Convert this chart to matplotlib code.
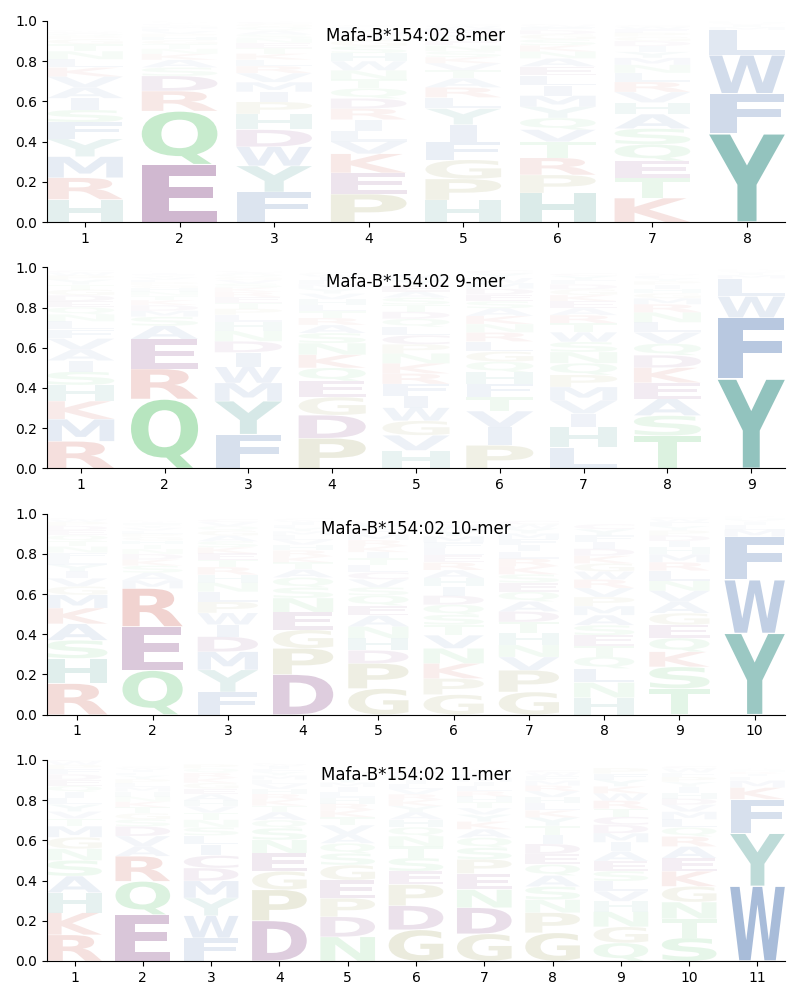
import numpy as np
import matplotlib
matplotlib.use('Agg')
from matplotlib import pyplot as plt
from matplotlib.textpath import TextPath
from matplotlib.patches import PathPatch
from matplotlib.font_manager import FontProperties
from matplotlib.transforms import Affine2D

allele = 'Mafa-B*154:02'

# letter probabilities per position
mer8 = [
    dict(H=.113, R=.108, M=.105, Y=.088, F=.083, S=.061, I=.058, A=.055, V=.053, L=.041, T=.035, K=.045,
         N=.04, G=.025, P=.015, Q=.012, D=.008, W=.005, E=.004),
    dict(E=.287, Q=.265, R=.10, D=.075, S=.042, A=.038, K=.03, N=.025, T=.022, G=.02, H=.018, P=.015,
         V=.013, L=.012, M=.01, Y=.008, F=.007, I=.005, W=.004, C=.004),
    dict(F=.15, Y=.13, W=.095, D=.085, H=.078, P=.06, I=.05, M=.048, V=.045, R=.035, L=.032, K=.03,
         T=.028, E=.025, N=.022, S=.02, A=.02, Q=.018, G=.015, C=.01),
    dict(P=.14, E=.105, K=.095, V=.06, L=.055, I=.055, R=.055, D=.05, Q=.05, T=.045, N=.045, H=.04,
         W=.045, S=.035, G=.03, A=.022, M=.018, Y=.015, F=.012, C=.008),
    dict(H=.11, P=.105, G=.095, F=.09, I=.085, Y=.08, L=.055, R=.05, A=.045, T=.04, V=.035, K=.03,
         S=.03, N=.028, E=.025, Q=.022, D=.02, M=.018, W=.012, C=.008),
    dict(H=.145, P=.09, R=.085, T=.08, V=.06, Q=.058, Y=.056, M=.055, I=.05, L=.05, E=.045, A=.04,
         N=.035, K=.03, S=.03, G=.025, D=.02, F=.015, W=.01, C=.006),
    dict(K=.12, T=.10, E=.085, Q=.082, S=.078, A=.072, H=.058, V=.052, R=.05, L=.045, N=.04, M=.035,
         Y=.03, I=.028, D=.025, G=.022, P=.02, F=.018, W=.012, C=.008),
    dict(Y=.44, F=.20, W=.19, L=.125, M=.015, I=.01, V=.008, H=.006, K=.004, R=.003),
]

mer9 = [
    dict(R=.135, M=.11, K=.09, H=.08, S=.066, I=.055, A=.055, V=.055, F=.045, L=.04, N=.035, Q=.035,
         E=.03, D=.03, G=.028, T=.025, Y=.025, P=.02, W=.015, C=.01),
    dict(Q=.345, R=.15, E=.148, A=.066, S=.045, M=.03, D=.028, K=.025, T=.022, N=.02, H=.018, G=.015,
         P=.014, L=.012, V=.012, Y=.01, F=.008, I=.006, W=.004, C=.003),
    dict(F=.17, Y=.165, M=.09, W=.08, I=.072, D=.055, N=.052, H=.045, L=.035, P=.03, T=.03, E=.028,
         R=.025, K=.022, S=.02, V=.018, G=.015, Q=.012, A=.01, C=.008),
    dict(P=.15, D=.115, G=.09, E=.08, Q=.065, K=.065, N=.058, S=.05, A=.04, R=.035, T=.033, L=.03,
         H=.03, V=.028, Y=.025, M=.022, F=.02, I=.018, W=.012, C=.008),
    dict(H=.09, V=.075, G=.072, W=.065, I=.06, F=.058, R=.052, K=.05, N=.05, P=.045, C=.045, L=.042,
         Q=.04, D=.035, T=.035, S=.035, A=.03, E=.03, Y=.028, M=.025),
    dict(P=.115, I=.09, V=.08, T=.07, F=.066, H=.058, Q=.052, G=.05, L=.05, R=.045, N=.042, K=.04,
         A=.038, S=.035, E=.033, D=.03, M=.028, W=.025, Y=.022, C=.015),
    dict(L=.105, H=.10, I=.068, V=.066, M=.066, P=.06, Q=.058, N=.056, S=.05, W=.048, T=.045, R=.04,
         A=.035, E=.035, K=.03, G=.028, D=.025, F=.022, Y=.02, C=.012),
    dict(T=.163, S=.10, A=.083, E=.08, K=.075, D=.062, Q=.058, V=.055, L=.05, N=.05, R=.04, M=.03,
         G=.025, H=.022, I=.02, P=.018, Y=.015, F=.012, W=.008, C=.005),
    dict(Y=.445, F=.305, W=.105, L=.09, M=.016, I=.01, V=.008, H=.005, K=.004, R=.003),
]

mer10 = [
    dict(R=.155, H=.125, S=.09, A=.082, K=.078, M=.066, G=.042, V=.04, I=.035, Y=.033, L=.03, F=.03,
         N=.03, T=.028, Q=.028, E=.025, D=.022, P=.02, W=.012, C=.008),
    dict(Q=.22, E=.218, R=.19, M=.04, A=.038, S=.035, K=.03, D=.028, N=.025, T=.022, H=.02, G=.018,
         P=.016, L=.015, V=.014, Y=.012, F=.01, I=.008, W=.005, C=.004),
    dict(F=.113, Y=.11, M=.09, D=.075, I=.06, W=.058, P=.055, L=.05, N=.045, H=.04, R=.038, T=.035,
         E=.033, K=.03, S=.03, A=.028, G=.025, Q=.022, V=.02, C=.015),
    dict(D=.20, P=.13, G=.092, E=.088, N=.07, S=.052, Q=.05, A=.04, T=.035, K=.03, R=.03, H=.028,
         V=.025, L=.022, M=.02, Y=.018, F=.015, I=.012, W=.01, C=.008),
    dict(G=.13, P=.125, D=.065, H=.06, N=.058, A=.055, E=.05, Q=.05, S=.04, V=.04, C=.035, L=.035,
         T=.035, I=.03, K=.03, R=.03, M=.028, F=.025, Y=.022, W=.018),
    dict(G=.10, P=.08, K=.075, N=.075, V=.065, T=.052, S=.05, Q=.05, D=.045, I=.045, H=.042, A=.04,
         R=.038, E=.035, L=.035, F=.03, M=.03, Y=.028, W=.025, C=.02),
    dict(G=.113, P=.108, V=.066, N=.06, H=.058, T=.056, D=.052, A=.05, Q=.048, E=.045, S=.042, K=.04,
         R=.038, L=.035, I=.032, F=.03, M=.028, Y=.025, W=.02, C=.018),
    dict(H=.085, N=.075, L=.07, Q=.058, T=.055, E=.052, S=.05, A=.05, M=.045, P=.045, V=.045, R=.042,
         W=.04, G=.04, K=.038, D=.035, I=.035, F=.032, Y=.03, C=.025),
    dict(T=.13, S=.108, K=.075, Q=.068, E=.066, G=.058, A=.056, V=.055, N=.05, L=.05, R=.042, M=.04,
         H=.035, I=.03, D=.028, P=.025, Y=.022, F=.02, W=.015, C=.01),
    dict(Y=.405, W=.265, F=.215, M=.035, L=.025, I=.015, V=.01, H=.008, K=.005, R=.004),
]

mer11 = [
    dict(R=.13, K=.11, H=.10, A=.082, S=.078, N=.058, G=.057, M=.055, T=.038, V=.035, Y=.035, L=.032,
         I=.03, Q=.03, E=.03, D=.028, F=.025, P=.022, W=.018, C=.012),
    dict(E=.23, Q=.166, R=.125, A=.05, V=.05, D=.048, S=.035, G=.03, T=.03, K=.028, N=.025, H=.025,
         M=.022, L=.02, P=.02, Y=.018, F=.015, I=.012, W=.01, C=.008),
    dict(F=.115, W=.11, Y=.088, M=.085, D=.064, C=.062, I=.055, L=.045, S=.04, N=.038, T=.035, V=.032,
         H=.03, A=.03, E=.028, G=.028, K=.025, R=.025, Q=.022, P=.02),
    dict(D=.20, P=.154, G=.092, E=.09, N=.066, S=.058, Q=.04, A=.04, T=.032, K=.03, R=.028, H=.025,
         V=.025, L=.022, M=.02, Y=.018, F=.015, I=.012, W=.01, C=.008),
    dict(N=.12, D=.10, P=.092, E=.09, G=.075, S=.058, Q=.05, A=.045, V=.045, T=.04, K=.035, R=.032,
         H=.03, L=.028, I=.025, M=.022, Y=.02, F=.018, W=.015, C=.01),
    dict(G=.155, D=.12, P=.105, E=.066, S=.066, T=.058, N=.05, Q=.045, H=.038, A=.036, Y=.032, K=.03,
         R=.028, V=.026, L=.025, I=.022, M=.02, F=.018, W=.012, C=.01),
    dict(G=.135, D=.13, N=.09, E=.08, P=.07, S=.058, Q=.05, A=.042, K=.038, Y=.035, V=.032, T=.03,
         H=.028, R=.026, L=.025, I=.022, M=.02, F=.018, W=.012, C=.01),
    dict(G=.14, P=.10, N=.065, S=.065, A=.055, Q=.055, E=.052, D=.05, I=.045, T=.045, Y=.042, K=.035,
         L=.035, H=.03, V=.03, R=.028, M=.025, F=.022, W=.018, C=.012),
    dict(Q=.09, G=.08, N=.075, H=.052, V=.05, L=.05, S=.05, E=.05, A=.048, I=.045, M=.045, D=.042,
         C=.04, T=.04, R=.04, W=.036, K=.035, Y=.033, F=.03, P=.028),
    dict(S=.115, T=.095, N=.083, G=.078, K=.075, E=.065, A=.058, R=.05, Q=.045, L=.04, M=.038, V=.035,
         D=.03, H=.03, I=.028, Y=.025, P=.025, F=.022, W=.02, C=.012),
    dict(W=.372, Y=.262, F=.17, K=.058, M=.035, L=.02, I=.012, R=.01, H=.008, V=.006, A=.004),
]

panels = [(mer8, '8-mer'), (mer9, '9-mer'), (mer10, '10-mer'), (mer11, '11-mer')]

colors = {}
for c in 'YH':
    colors[c] = '#2a8a80'
for c in 'FWLMIVA':
    colors[c] = '#3563a8'
for c in 'DEC':
    colors[c] = '#712871'
for c in 'NQST':
    colors[c] = '#49bf5e'
for c in 'RK':
    colors[c] = '#c0392b'
for c in 'GP':
    colors[c] = '#8f8f40'

fp = FontProperties(family='DejaVu Sans', weight='bold')
E_ext = TextPath((0, 0), 'E', size=1, prop=fp).get_extents()


def draw_glyph(ax, c, x, floor, h, width=0.8, vpad=0.02):
    tp = TextPath((0, 0), c, size=1, prop=fp)
    ext = tp.get_extents()
    # narrow letters (I, T...) are not stretched wider than E is
    hs = min(width / ext.width, width / E_ext.width)
    cw = hs * ext.width
    hh = h * (1 - vpad)
    vs = hh / ext.height
    tr = Affine2D().translate(-ext.xmin, -ext.ymin).scale(hs, vs) \
        .translate(x - width / 2 + (width - cw) / 2, floor + h * vpad / 2)
    path = tr.transform_path(tp)
    alpha = min(1.0, 1.15 * h)
    ax.add_patch(PathPatch(path, facecolor=colors[c], edgecolor='none', alpha=alpha, lw=0))


fig, axes = plt.subplots(4, 1, figsize=(8, 10), dpi=100)
fig.subplots_adjust(left=0.059, right=0.981, top=0.979, bottom=0.039, hspace=0.224)

for ax, (mat, name) in zip(axes, panels):
    L = len(mat)
    for i, col in enumerate(mat):
        pos = i + 1
        floor = 0.0
        for c, v in sorted(col.items(), key=lambda kv: -kv[1]):
            draw_glyph(ax, c, pos, floor, v)
            floor += v
    ax.set_xlim(0.6, L + 0.4)
    ax.set_ylim(0, 1)
    ax.set_xticks(range(1, L + 1))
    ax.set_yticks(np.arange(0, 1.01, 0.2))
    ax.spines['top'].set_visible(False)
    ax.spines['right'].set_visible(False)
    ax.text(0.5, 0.925, allele + ' ' + name, transform=ax.transAxes,
            ha='center', va='center', fontsize=12)

plt.savefig('out.png')
